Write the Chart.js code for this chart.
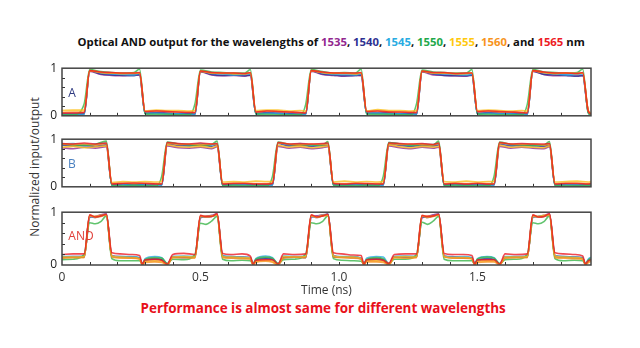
<!DOCTYPE html>
<html>
<head>
<meta charset="utf-8">
<script src="https://cdn.jsdelivr.net/npm/chart.js@4.4.1/dist/chart.umd.min.js"></script>
<style>
  body { margin: 0; width: 640px; height: 348px; overflow: hidden; position: relative; background: #fff; font-family: "Open Sans", sans-serif; }
  .txt { position: absolute; white-space: nowrap; line-height: 1.2; }
  .mid { transform: translate(-50%, -50%); }
  canvas { position: absolute; left: 0; }
</style>
</head>
<body>
<div id="title" class="txt" style="font-weight:700;color:#111;font-size:12px">Optical AND output for the wavelengths of <span style="color:#92278f">1535</span>, <span style="color:#2e3192">1540</span>, <span style="color:#29abe2">1545</span>, <span style="color:#22a84a">1550</span>, <span style="color:#ffc90e">1555</span>, <span style="color:#f7941d">1560</span>, and <span style="color:#ed1c24">1565</span> nm</div>
<div id="caption" class="txt" style="font-weight:700;color:#e8101a;font-size:15px">Performance is almost same for different wavelengths</div>
<div class="txt" style="left:35px;top:167px;font-size:12px;color:#333;transform:translate(-50%,-50%) rotate(-90deg)">Normalized input/output</div>

<canvas id="chartA" width="640" height="72" style="top:56px"></canvas>
<canvas id="chartB" width="640" height="72" style="top:127px"></canvas>
<canvas id="chartAND" width="640" height="100" style="top:200px"></canvas>

<div class="txt mid" style="left:72px;top:93px;font-size:12px;color:#2e3a80">A</div>
<div class="txt mid" style="left:72px;top:164px;font-size:12px;color:#4a80c0">B</div>
<div class="txt mid" style="left:81px;top:236px;font-size:12px;color:#e0403a">AND</div>

<script>
const WAVES = ['1535', '1540', '1545', '1550', '1555', '1560', '1565'];
const COLORS = ['#93278f', '#2e3192', '#29abe2', '#39b54a', '#fbbf1a', '#f7931e', '#ed1c24'];
const X_TICKS = [0, 0.5, 1.0, 1.5];
const X_LABELS = ['0', '0.5', '1.0', '1.5'];

// time axis (ns) of each panel
const tA = [0,0.04,0.08, 0.10,0.14,0.18,0.22,0.26,0.28, 0.30,0.34,0.38,0.42,0.46,0.48,
  0.50,0.54,0.58,0.62,0.66,0.68, 0.70,0.74,0.78,0.82,0.86,0.88, 0.90,0.94,0.98,1.02,1.06,1.08,
  1.10,1.14,1.18,1.22,1.26,1.28, 1.30,1.34,1.38,1.42,1.46,1.48, 1.50,1.54,1.58,1.62,1.66,1.68,
  1.70,1.74,1.78,1.82,1.86,1.88, 1.90,1.91];
const tB = [0,0.04,0.08,0.12,0.16, 0.18,0.22,0.26,0.30,0.34,0.36, 0.38,0.42,0.46,0.50,0.54,0.56,
  0.58,0.62,0.66,0.70,0.74,0.76, 0.78,0.82,0.86,0.90,0.94,0.96, 0.98,1.02,1.06,1.10,1.14,1.16,
  1.18,1.22,1.26,1.30,1.34,1.36, 1.38,1.42,1.46,1.50,1.54,1.56, 1.58,1.62,1.66,1.70,1.74,1.76,
  1.78,1.82,1.86,1.90,1.91];
const tAND = [0.00,0.04,0.08,0.10,0.12,0.14,0.16,0.18,0.21,0.25,0.28,0.29,0.30,0.335,0.36,0.38,
  0.40,0.44,0.48,0.50,0.52,0.54,0.56,0.58,0.61,0.65,0.68,0.69,0.70,0.735,0.76,0.78,
  0.80,0.84,0.88,0.90,0.92,0.94,0.96,0.98,1.01,1.05,1.08,1.09,1.10,1.135,1.16,1.18,
  1.20,1.24,1.28,1.30,1.32,1.34,1.36,1.38,1.41,1.45,1.48,1.49,1.50,1.535,1.56,1.58,
  1.60,1.64,1.68,1.70,1.72,1.74,1.76,1.78,1.81,1.85,1.88,1.89,1.90,1.91];

// --- input A ---
const a1535 = [0.04,0.05,0.05, 0.93,0.87,0.85,0.84,0.86,0.85, 0.06,0.07,0.06,0.05,0.05,0.04,
  0.92,0.86,0.84,0.85,0.83,0.86, 0.05,0.07,0.06,0.06,0.04,0.05, 0.93,0.87,0.85,0.83,0.85,0.84,
  0.06,0.06,0.07,0.05,0.05,0.04, 0.92,0.86,0.85,0.84,0.83,0.86, 0.05,0.07,0.06,0.05,0.04,0.05,
  0.93,0.87,0.84,0.85,0.84,0.85, 0.09,0.03];
const a1540 = [0.03,0.03,0.04, 0.94,0.88,0.86,0.85,0.84,0.87, 0.05,0.06,0.05,0.04,0.04,0.03,
  0.93,0.87,0.85,0.86,0.84,0.85, 0.05,0.06,0.05,0.04,0.03,0.04, 0.94,0.88,0.86,0.84,0.85,0.86,
  0.06,0.05,0.05,0.04,0.04,0.03, 0.93,0.88,0.85,0.84,0.84,0.85, 0.05,0.06,0.05,0.05,0.04,0.03,
  0.94,0.87,0.86,0.85,0.83,0.84, 0.08,0.02];
const a1545 = [0.02,0.03,0.03, 0.95,0.90,0.88,0.87,0.86,0.89, 0.05,0.05,0.04,0.04,0.03,0.03,
  0.94,0.89,0.88,0.86,0.87,0.88, 0.04,0.05,0.05,0.03,0.03,0.03, 0.95,0.90,0.87,0.87,0.86,0.88,
  0.05,0.05,0.04,0.04,0.03,0.03, 0.94,0.89,0.88,0.87,0.86,0.87, 0.04,0.05,0.04,0.04,0.03,0.03,
  0.95,0.90,0.88,0.86,0.87,0.88, 0.07,0.02];
const a1550 = [0.02,0.02,0.25, 0.97,0.93,0.91,0.90,0.91,0.98, 0.04,0.03,0.03,0.02,0.02,0.25,
  0.96,0.92,0.91,0.90,0.90,0.97, 0.04,0.03,0.02,0.02,0.02,0.24, 0.97,0.93,0.90,0.91,0.90,0.98,
  0.03,0.03,0.03,0.02,0.02,0.25, 0.96,0.92,0.91,0.90,0.90,0.97, 0.04,0.03,0.02,0.02,0.02,0.24,
  0.97,0.92,0.91,0.90,0.91,0.98, 0.06,0.02];
const a1555 = [0.11,0.12,0.12, 0.95,0.91,0.90,0.89,0.90,0.90, 0.10,0.12,0.11,0.11,0.10,0.11,
  0.94,0.90,0.90,0.88,0.89,0.90, 0.11,0.12,0.12,0.10,0.11,0.10, 0.95,0.91,0.89,0.90,0.88,0.90,
  0.10,0.13,0.11,0.11,0.10,0.11, 0.94,0.90,0.90,0.89,0.89,0.90, 0.11,0.12,0.11,0.10,0.11,0.10,
  0.95,0.91,0.89,0.90,0.89,0.90, 0.12,0.06];
const a1560 = [0.07,0.08,0.08, 0.94,0.91,0.90,0.89,0.89,0.90, 0.09,0.10,0.09,0.08,0.08,0.07,
  0.93,0.90,0.89,0.90,0.88,0.90, 0.08,0.10,0.09,0.08,0.07,0.07, 0.94,0.91,0.90,0.89,0.89,0.90,
  0.09,0.10,0.09,0.08,0.08,0.07, 0.93,0.90,0.90,0.88,0.89,0.90, 0.09,0.10,0.08,0.08,0.07,0.07,
  0.94,0.91,0.89,0.90,0.89,0.90, 0.10,0.04];
const a1565 = [0.06,0.06,0.07, 0.95,0.92,0.91,0.90,0.90,0.91, 0.09,0.10,0.09,0.08,0.07,0.07,
  0.94,0.91,0.90,0.90,0.89,0.91, 0.08,0.10,0.09,0.08,0.07,0.06, 0.95,0.92,0.90,0.90,0.90,0.91,
  0.09,0.10,0.08,0.08,0.07,0.07, 0.94,0.91,0.91,0.89,0.90,0.90, 0.09,0.10,0.09,0.08,0.07,0.06,
  0.95,0.92,0.90,0.90,0.89,0.91, 0.10,0.04];

// --- input B ---
const b1535 = [0.82,0.80,0.83,0.81,0.84, 0.05,0.06,0.05,0.05,0.06,0.05, 0.86,0.82,0.81,0.83,0.80,0.84,
  0.05,0.06,0.06,0.05,0.05,0.06, 0.85,0.81,0.83,0.80,0.82,0.84, 0.06,0.05,0.06,0.05,0.05,0.05,
  0.86,0.82,0.80,0.83,0.81,0.83, 0.05,0.06,0.05,0.06,0.05,0.05, 0.85,0.81,0.83,0.81,0.80,0.84,
  0.05,0.06,0.05,0.05,0.06];
const b1540 = [0.88,0.86,0.87,0.85,0.88, 0.04,0.05,0.04,0.04,0.05,0.04, 0.90,0.87,0.86,0.88,0.85,0.88,
  0.04,0.05,0.05,0.04,0.04,0.04, 0.91,0.86,0.88,0.85,0.87,0.87, 0.05,0.04,0.05,0.04,0.04,0.04,
  0.90,0.87,0.85,0.87,0.86,0.88, 0.04,0.05,0.04,0.05,0.04,0.04, 0.90,0.86,0.87,0.86,0.85,0.87,
  0.04,0.05,0.04,0.04,0.05];
const b1545 = [0.90,0.91,0.89,0.90,0.92, 0.03,0.04,0.03,0.04,0.04,0.03, 0.93,0.90,0.89,0.91,0.88,0.91,
  0.03,0.04,0.04,0.03,0.03,0.04, 0.92,0.89,0.91,0.88,0.90,0.91, 0.04,0.03,0.04,0.03,0.04,0.03,
  0.93,0.90,0.88,0.90,0.89,0.92, 0.03,0.04,0.03,0.04,0.03,0.04, 0.92,0.89,0.90,0.89,0.88,0.91,
  0.03,0.04,0.04,0.03,0.04];
const b1550 = [0.90,0.88,0.87,0.89,0.96, 0.03,0.02,0.03,0.02,0.02,0.22, 0.94,0.90,0.88,0.87,0.89,0.96,
  0.02,0.03,0.02,0.02,0.02,0.22, 0.94,0.89,0.88,0.88,0.87,0.95, 0.03,0.02,0.02,0.03,0.02,0.22,
  0.93,0.90,0.87,0.89,0.88,0.96, 0.02,0.03,0.02,0.02,0.02,0.22, 0.94,0.89,0.88,0.87,0.88,0.95,
  0.03,0.02,0.02,0.03,0.02];
const b1555 = [0.83,0.85,0.82,0.84,0.86, 0.09,0.11,0.10,0.11,0.10,0.12, 0.88,0.84,0.83,0.85,0.82,0.86,
  0.10,0.11,0.10,0.12,0.11,0.11, 0.87,0.83,0.85,0.82,0.84,0.86, 0.10,0.12,0.10,0.11,0.10,0.11,
  0.88,0.84,0.82,0.85,0.83,0.85, 0.11,0.10,0.12,0.10,0.11,0.11, 0.87,0.83,0.84,0.83,0.82,0.86,
  0.10,0.11,0.12,0.10,0.11];
const b1560 = [0.90,0.89,0.90,0.88,0.91, 0.07,0.08,0.07,0.08,0.07,0.07, 0.92,0.89,0.90,0.88,0.90,0.90,
  0.07,0.08,0.08,0.07,0.07,0.08, 0.92,0.90,0.88,0.90,0.89,0.90, 0.08,0.07,0.08,0.07,0.07,0.07,
  0.91,0.89,0.90,0.89,0.88,0.91, 0.07,0.08,0.07,0.08,0.07,0.07, 0.92,0.90,0.89,0.90,0.88,0.90,
  0.07,0.08,0.08,0.07,0.08];
const b1565 = [0.91,0.90,0.92,0.90,0.92, 0.06,0.07,0.08,0.07,0.06,0.06, 0.93,0.91,0.90,0.92,0.90,0.91,
  0.06,0.07,0.07,0.06,0.06,0.07, 0.93,0.90,0.91,0.90,0.91,0.92, 0.07,0.06,0.07,0.07,0.06,0.06,
  0.92,0.91,0.90,0.91,0.89,0.92, 0.06,0.07,0.06,0.07,0.06,0.06, 0.93,0.90,0.91,0.90,0.90,0.91,
  0.06,0.07,0.07,0.06,0.07];

// --- AND output ---
const and1535 = [0.15,0.16,0.16,0.90,0.92,0.95,0.97,0.18,0.16,0.15,0.13,0.01,0.08,0.10,0.10,0.02,
  0.16,0.15,0.16,0.89,0.92,0.94,0.97,0.17,0.16,0.15,0.14,0.01,0.08,0.11,0.10,0.02,
  0.15,0.16,0.15,0.90,0.93,0.95,0.96,0.18,0.15,0.15,0.13,0.01,0.09,0.10,0.09,0.02,
  0.16,0.16,0.16,0.89,0.92,0.95,0.97,0.17,0.16,0.14,0.13,0.01,0.08,0.10,0.10,0.02,
  0.15,0.16,0.16,0.90,0.92,0.94,0.97,0.18,0.16,0.15,0.13,0.01,0.07,0.10];
const and1540 = [0.14,0.15,0.15,0.93,0.90,0.93,0.95,0.16,0.15,0.14,0.13,0.01,0.09,0.12,0.10,0.01,
  0.15,0.14,0.15,0.92,0.91,0.92,0.95,0.16,0.14,0.14,0.13,0.01,0.09,0.13,0.11,0.01,
  0.14,0.15,0.14,0.93,0.90,0.93,0.96,0.15,0.15,0.14,0.12,0.01,0.10,0.12,0.10,0.01,
  0.15,0.15,0.15,0.92,0.90,0.93,0.95,0.16,0.14,0.13,0.13,0.01,0.09,0.12,0.11,0.01,
  0.14,0.15,0.15,0.93,0.91,0.92,0.95,0.16,0.15,0.14,0.13,0.01,0.08,0.11];
const and1545 = [0.16,0.16,0.17,0.92,0.91,0.93,0.96,0.17,0.16,0.16,0.14,0.02,0.12,0.16,0.14,0.02,
  0.16,0.17,0.16,0.91,0.92,0.93,0.95,0.18,0.16,0.15,0.14,0.02,0.12,0.17,0.14,0.02,
  0.17,0.16,0.17,0.92,0.91,0.94,0.96,0.17,0.16,0.16,0.13,0.02,0.13,0.16,0.15,0.02,
  0.16,0.17,0.16,0.92,0.91,0.93,0.96,0.17,0.15,0.16,0.14,0.02,0.12,0.16,0.14,0.02,
  0.16,0.16,0.17,0.91,0.92,0.93,0.95,0.18,0.16,0.15,0.14,0.02,0.11,0.15];
const and1550 = [0.10,0.11,0.20,0.80,0.78,0.82,0.93,0.12,0.08,0.08,0.08,0.02,0.10,0.14,0.13,0.03,
  0.11,0.10,0.20,0.79,0.77,0.83,0.92,0.11,0.08,0.09,0.08,0.02,0.11,0.15,0.13,0.03,
  0.10,0.11,0.21,0.80,0.78,0.82,0.93,0.12,0.09,0.08,0.07,0.02,0.10,0.14,0.12,0.03,
  0.11,0.11,0.20,0.81,0.77,0.83,0.92,0.11,0.08,0.08,0.08,0.02,0.11,0.15,0.13,0.03,
  0.10,0.11,0.20,0.80,0.78,0.82,0.93,0.12,0.08,0.09,0.08,0.02,0.09,0.13];
const and1555 = [0.15,0.15,0.16,0.93,0.92,0.94,0.95,0.17,0.15,0.14,0.12,0.01,0.07,0.08,0.07,0.01,
  0.15,0.16,0.15,0.92,0.92,0.93,0.95,0.16,0.15,0.14,0.13,0.01,0.07,0.09,0.07,0.01,
  0.16,0.15,0.16,0.93,0.91,0.94,0.94,0.17,0.15,0.15,0.12,0.01,0.08,0.08,0.07,0.01,
  0.15,0.16,0.15,0.93,0.92,0.93,0.95,0.16,0.14,0.14,0.12,0.01,0.07,0.08,0.08,0.01,
  0.15,0.15,0.16,0.92,0.92,0.94,0.95,0.17,0.15,0.14,0.12,0.01,0.06,0.08];
const and1560 = [0.13,0.14,0.14,0.94,0.90,0.92,0.95,0.15,0.13,0.13,0.11,0.00,0.05,0.06,0.05,0.00,
  0.14,0.14,0.13,0.93,0.91,0.92,0.95,0.14,0.13,0.12,0.11,0.00,0.05,0.07,0.05,0.00,
  0.13,0.15,0.14,0.94,0.90,0.93,0.94,0.15,0.14,0.13,0.11,0.00,0.06,0.06,0.05,0.00,
  0.14,0.13,0.14,0.93,0.90,0.92,0.95,0.15,0.13,0.13,0.12,0.00,0.05,0.06,0.06,0.00,
  0.13,0.14,0.14,0.94,0.91,0.92,0.95,0.14,0.13,0.12,0.11,0.00,0.04,0.07];
const and1565 = [0.20,0.21,0.21,0.95,0.91,0.93,0.96,0.23,0.21,0.20,0.18,0.02,0.10,0.11,0.09,0.02,
  0.20,0.22,0.20,0.94,0.92,0.92,0.97,0.22,0.20,0.21,0.17,0.02,0.09,0.10,0.10,0.02,
  0.21,0.20,0.21,0.95,0.91,0.93,0.96,0.23,0.21,0.19,0.18,0.02,0.10,0.11,0.09,0.03,
  0.20,0.21,0.21,0.94,0.92,0.93,0.96,0.22,0.20,0.20,0.18,0.02,0.10,0.10,0.10,0.02,
  0.21,0.20,0.21,0.95,0.91,0.92,0.97,0.23,0.21,0.20,0.17,0.02,0.08,0.10];

const seriesA = [a1535, a1540, a1545, a1550, a1555, a1560, a1565];
const seriesB = [b1535, b1540, b1545, b1550, b1555, b1560, b1565];
const seriesAND = [and1535, and1540, and1545, and1550, and1555, and1560, and1565];

const FONT = { family: 'Open Sans', size: 12 };

// frame box + small inward ticks
const frame = {
  id: 'frame',
  afterDatasetsDraw(chart) {
    const { ctx, chartArea: a, scales: { x, y } } = chart;
    ctx.save();
    ctx.strokeStyle = '#333';
    ctx.lineWidth = 1;
    ctx.beginPath();
    for (let v = 0.1; v < 1.9; v += 0.1) {
      const px = Math.round(x.getPixelForValue(v)) + 0.5;
      ctx.moveTo(px, a.bottom); ctx.lineTo(px, a.bottom - 3);
    }
    for (let v = 0.2; v < 0.99; v += 0.2) {
      const py = Math.round(y.getPixelForValue(v)) + 0.5;
      ctx.moveTo(a.left, py); ctx.lineTo(a.left + 3, py);
    }
    ctx.stroke();
    ctx.lineWidth = 1.5;
    ctx.strokeStyle = '#444';
    ctx.strokeRect(a.left, a.top, a.right - a.left, a.bottom - a.top);
    ctx.restore();
  }
};

function makeChart(canvasId, times, series, showX, padTop, padBottom) {
  return new Chart(document.getElementById(canvasId), {
    type: 'line',
    data: {
      datasets: series.map((ys, i) => ({
        label: WAVES[i],
        data: times.map((t, k) => ({ x: t, y: ys[k] })),
        borderColor: COLORS[i] + 'cc',
        borderWidth: 1.6,
        pointRadius: 0,
        cubicInterpolationMode: 'monotone',
        order: WAVES.length - i
      }))
    },
    options: {
      responsive: false,
      animation: false,
      events: [],
      layout: { padding: { top: padTop, bottom: padBottom, left: 0, right: 49 } },
      plugins: { legend: { display: false }, tooltip: { enabled: false } },
      scales: {
        x: {
          type: 'linear', min: 0, max: 1.91, display: showX,
          grid: { display: false, drawTicks: false }, border: { display: false },
          afterFit: s => { s.height = showX ? 35 : 0; },
          ticks: {
            stepSize: 0.5, autoSkip: false, maxRotation: 0, padding: 5, color: '#333', font: FONT,
            callback: v => {
              const i = X_TICKS.findIndex(t => Math.abs(t - v) < 1e-6);
              return i < 0 ? '' : X_LABELS[i];
            }
          },
          title: { display: true, text: 'Time (ns)', color: '#333', font: FONT, padding: { top: 0, bottom: 2 } }
        },
        y: {
          min: 0, max: 1,
          grid: { display: false, drawTicks: false }, border: { display: false },
          afterFit: s => { s.width = 62; },
          ticks: { stepSize: 1, padding: 5, color: '#222', font: FONT }
        }
      }
    },
    plugins: [frame]
  });
}

makeChart('chartA', tA, seriesA, false, 9, 6);
makeChart('chartB', tB, seriesB, false, 9, 5);
makeChart('chartAND', tAND, seriesAND, true, 9, 0);

function fit(id, width, cx, cy) {
  const el = document.getElementById(id);
  const base = parseFloat(el.style.fontSize);
  el.style.fontSize = (base * width / el.offsetWidth) + 'px';
  el.style.left = (cx - el.offsetWidth / 2) + 'px';
  el.style.top = (cy - el.offsetHeight / 2) + 'px';
}
fit('title', 508, 331, 42);
fit('caption', 366, 323, 308);
</script>
</body>
</html>
